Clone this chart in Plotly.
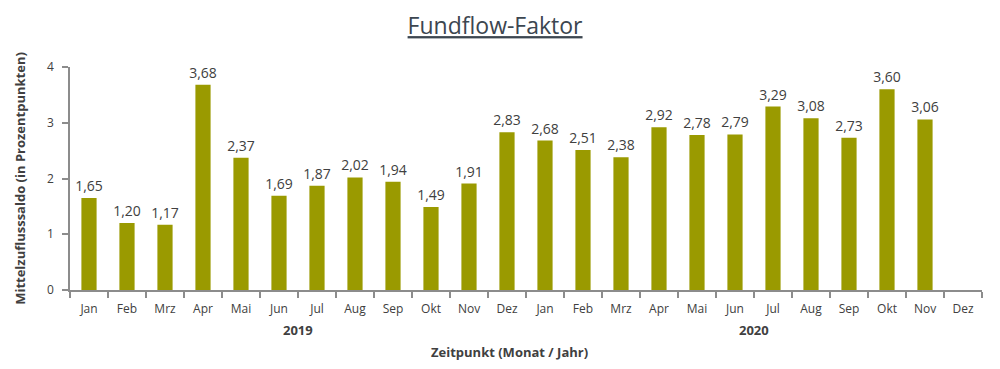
import plotly.graph_objects as go

months = ["Jan", "Feb", "Mrz", "Apr", "Mai", "Jun", "Jul", "Aug", "Sep", "Okt", "Nov", "Dez",
          "Jan", "Feb", "Mrz", "Apr", "Mai", "Jun", "Jul", "Aug", "Sep", "Okt", "Nov", "Dez"]
values = [1.65, 1.20, 1.17, 3.68, 2.37, 1.69, 1.87, 2.02, 1.94, 1.49, 1.91, 2.83,
          2.68, 2.51, 2.38, 2.92, 2.78, 2.79, 3.29, 3.08, 2.73, 3.60, 3.06, None]
years = ["2019", "2020"]
y_ticks = [0, 1, 2, 3, 4]

FONT = "Open Sans"
idx = list(range(len(months)))

fig = go.Figure()
fig.add_trace(go.Bar(
    x=idx, y=values,
    marker=dict(color="#9a9a00", line=dict(width=0)),
    width=0.4,
    text=values,
    texttemplate="%{y:.2f}",
    textposition="outside",
    constraintext="none",
    cliponaxis=False,
    textfont=dict(family=FONT, size=14, color="#404040"),
))

for i, yr in enumerate(years):
    fig.add_annotation(x=5.5 + 12 * i, y=-0.179, xref="x", yref="paper",
                       text="<b>%s</b>" % yr, showarrow=False, yanchor="middle",
                       font=dict(family=FONT, size=13, color="#404040"))

fig.add_annotation(x=0.482, y=-0.278, xref="paper", yref="paper",
                   text="<b>Zeitpunkt (Monat / Jahr)</b>", showarrow=False, yanchor="middle",
                   font=dict(family=FONT, size=13, color="#404040"))

fig.update_layout(
    width=992, height=361,
    margin=dict(l=57, r=18, t=59, b=79),
    paper_bgcolor="white", plot_bgcolor="white",
    separators=",.",
    showlegend=False,
    title=dict(text="<u>Fundflow-Faktor</u>", x=0.491, xanchor="center", y=0.95, yanchor="middle",
               font=dict(family=FONT, size=23, color="#3c4650")),
    xaxis=dict(
        range=[-0.5, 23.5], tickmode="array", tickvals=idx, ticktext=months,
        ticks="", showgrid=False, zeroline=False,
        ticklabelstandoff=7,
        showline=True, linecolor="#8c8c8c", linewidth=1.5,
        tickfont=dict(family=FONT, size=12, color="#404040"),
        minor=dict(ticks="outside", tick0=-0.5, dtick=1, ticklen=6, tickcolor="#8c8c8c", tickwidth=1.5, showgrid=False),
    ),
    yaxis=dict(
        range=[0, 4], tickmode="array", tickvals=y_ticks,
        ticks="outside", ticklen=6, tickcolor="#8c8c8c", tickwidth=1.5,
        ticklabelstandoff=6,
        showgrid=False, zeroline=False,
        showline=True, linecolor="#8c8c8c", linewidth=1.5,
        tickfont=dict(family=FONT, size=12, color="#404040"),
        title=dict(text="<b>Mittelzuflusssaldo (in Prozentpunkten)</b>", standoff=18,
                   font=dict(family=FONT, size=13, color="#404040")),
    ),
)

fig.write_html("out.html")
